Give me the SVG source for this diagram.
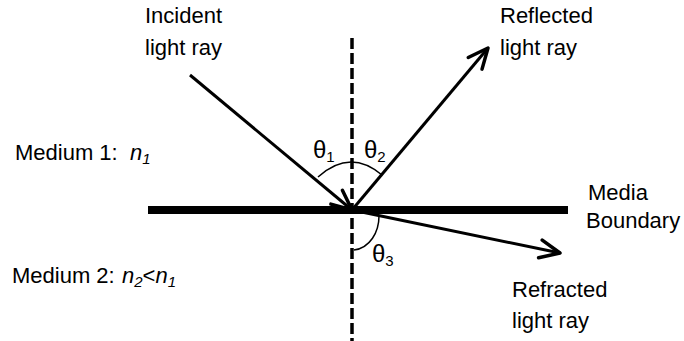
<svg xmlns="http://www.w3.org/2000/svg" width="684" height="341" viewBox="0 0 684 341">
<style>
text{font-family:"Liberation Sans",Arial,sans-serif;font-size:22px;fill:#000}
.sub{font-size:15px}
.it{font-style:italic}
.th{font-size:24px}
.ray{stroke:#000;stroke-width:3;fill:none;marker-end:url(#arrow)}
.arc{stroke:#000;stroke-width:1.5;fill:none}
</style>
<defs>
<marker id="arrow" markerUnits="userSpaceOnUse" viewBox="-25 -15 30 30" markerWidth="30" markerHeight="30" refX="0" refY="0" orient="auto" overflow="visible">
<path d="M-20,-9 L0,0 L-20,9" fill="none" stroke="#000" stroke-width="3.5" stroke-linecap="round" stroke-linejoin="round"/>
</marker>
</defs>
<rect width="684" height="341" fill="#fff"/>
<g id="boundary">
<line x1="148" y1="210" x2="568" y2="210" stroke="#000" stroke-width="8"/>
</g>
<g id="normal">
<line x1="352" y1="38" x2="352" y2="341" stroke="#000" stroke-width="3.5" stroke-dasharray="11 4"/>
</g>
<g id="connectors">
<line class="ray" x1="190" y1="75" x2="352" y2="210"/>
<line class="ray" x1="352" y1="210" x2="488" y2="48"/>
<line class="ray" x1="352" y1="210" x2="560" y2="253"/>
<path class="arc" d="M318,177 Q350,148 382,175"/>
<path class="arc" d="M354,250 C370,248 379,232 379,216"/>
</g>
<g id="incident-label">
<text x="145" y="23">Incident</text>
<text x="145" y="55">light ray</text>
</g>
<g id="reflected-label">
<text x="500" y="23">Reflected</text>
<text x="500" y="55">light ray</text>
</g>
<g id="boundary-label">
<text x="588" y="200">Media</text>
<text x="586" y="228">Boundary</text>
</g>
<g id="refracted-label">
<text x="512" y="297">Refracted</text>
<text x="512" y="328">light ray</text>
</g>
<g id="medium1">
<text x="15" y="160">Medium 1:</text>
<text x="130" y="160" class="it">n<tspan class="sub" dy="4">1</tspan></text>
</g>
<g id="medium2">
<text x="12" y="283">Medium 2:</text>
<text x="122" y="283"><tspan class="it">n</tspan><tspan class="sub it" dy="4">2</tspan><tspan dy="-4">&lt;</tspan><tspan class="it">n</tspan><tspan class="sub it" dy="4">1</tspan></text>
</g>
<g id="theta1"><text class="th" x="313" y="158">θ<tspan class="sub" dy="4">1</tspan></text></g>
<g id="theta2"><text class="th" x="364" y="158">θ<tspan class="sub" dy="4">2</tspan></text></g>
<g id="theta3"><text class="th" x="372" y="262">θ<tspan class="sub" dy="4">3</tspan></text></g>
</svg>
